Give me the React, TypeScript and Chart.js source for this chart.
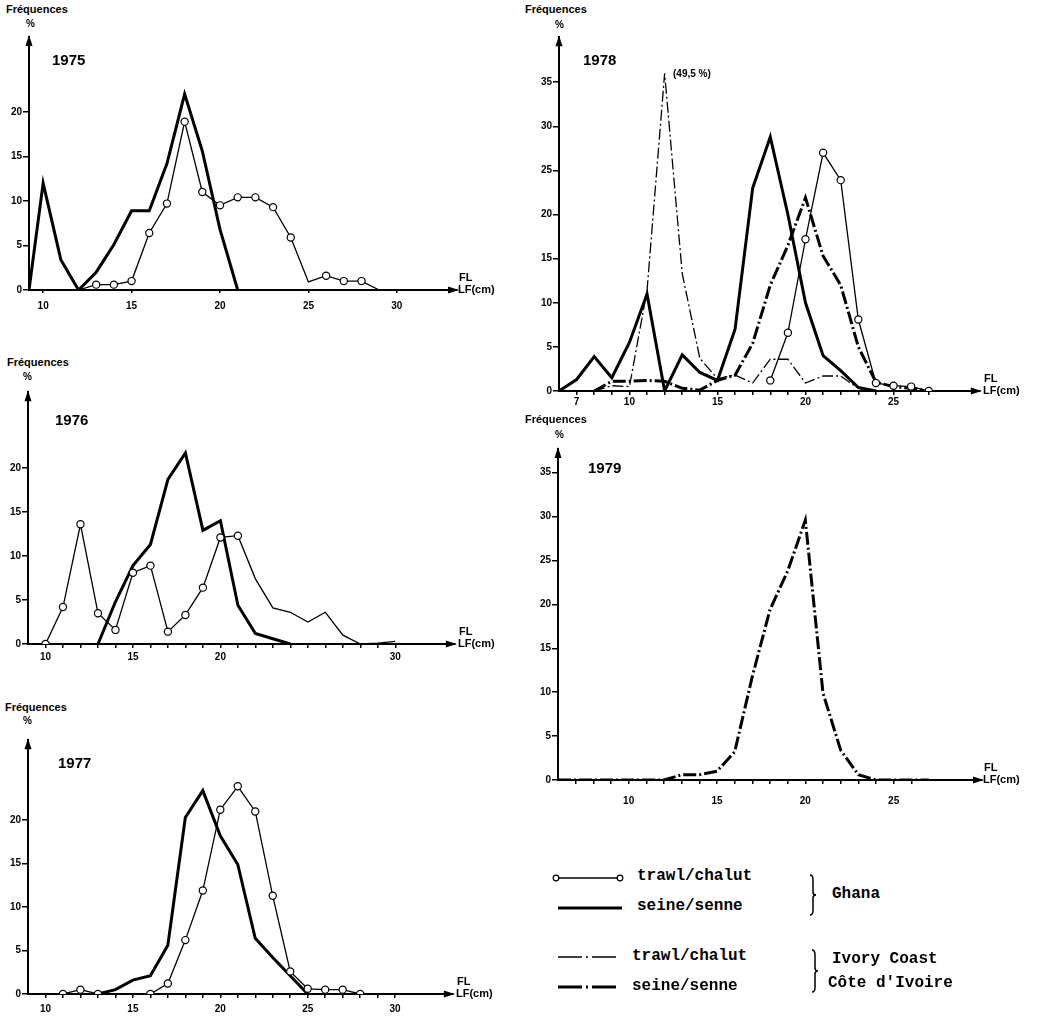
import React, { useEffect, useRef } from "react";
import { Chart, registerables } from "chart.js";

Chart.register(...registerables);

// ===== Data (length FL/LF in cm, frequency in %) =====
// 1975 — Ghana
const gTrawl1975Len = [12, 13, 14, 15, 16, 17, 18, 19, 20, 21, 22, 23, 24, 25, 26, 27, 28, 29];
const gTrawl1975Pct = [0, 0.6, 0.6, 1.0, 6.4, 9.7, 18.9, 11.0, 9.5, 10.4, 10.4, 9.3, 5.9, 0.9, 1.6, 1.0, 1.0, 0];
const gTrawl1975Mark = [0, 1, 1, 1, 1, 1, 1, 1, 1, 1, 1, 1, 1, 0, 1, 1, 1, 0];
const gSeine1975Len = [9.2, 10, 11, 12, 13, 14, 15, 16, 17, 18, 19, 20, 21];
const gSeine1975Pct = [0, 12, 3.4, 0, 2.0, 5.1, 8.9, 8.9, 14.2, 22, 15.6, 6.8, 0];

// 1976 — Ghana
const gTrawl1976Len = [10, 11, 12, 13, 14, 15, 16, 17, 18, 19, 20, 21, 22, 23, 24, 25, 26, 27, 28, 29, 30];
const gTrawl1976Pct = [0, 4.2, 13.6, 3.5, 1.6, 8.1, 8.9, 1.4, 3.3, 6.4, 12.1, 12.3, 7.4, 4.1, 3.6, 2.5, 3.6, 1.0, 0, 0.1, 0.3];
const gTrawl1976Mark = [1, 1, 1, 1, 1, 1, 1, 1, 1, 1, 1, 1, 0, 0, 0, 0, 0, 0, 0, 0, 0];
const gSeine1976Len = [13, 14, 15, 16, 17, 18, 19, 20, 21, 22, 23, 24];
const gSeine1976Pct = [0, 4.8, 8.9, 11.3, 18.7, 21.7, 12.9, 14.0, 4.4, 1.2, 0.6, 0];

// 1977 — Ghana
const gTrawl1977Len = [11, 12, 13, 14, 15, 16, 17, 18, 19, 20, 21, 22, 23, 24, 25, 26, 27, 28];
const gTrawl1977Pct = [0, 0.5, 0, 0, 0, 0, 1.2, 6.2, 11.9, 21.2, 23.9, 21.0, 11.3, 2.6, 0.6, 0.5, 0.5, 0];
const gTrawl1977Mark = [1, 1, 1, 0, 0, 1, 1, 1, 1, 1, 1, 1, 1, 1, 1, 1, 1, 1];
const gSeine1977Len = [13, 14, 15, 16, 17, 18, 19, 20, 21, 22, 23, 24, 25];
const gSeine1977Pct = [0, 0.5, 1.6, 2.1, 5.6, 20.3, 23.4, 18.2, 14.9, 6.4, 4.2, 2.1, 0];

// 1978 — Ghana and Ivory Coast (trawl peak at 12 cm is 49.5 %, drawn truncated)
const gTrawl1978Len = [18, 19, 20, 21, 22, 23, 24, 25, 26, 27];
const gTrawl1978Pct = [1.2, 6.6, 17.2, 27.0, 23.9, 8.1, 0.9, 0.6, 0.5, 0];
const gTrawl1978Mark = [1, 1, 1, 1, 1, 1, 1, 1, 1, 1];
const gSeine1978Len = [6, 7, 8, 9, 10, 11, 12, 13, 14, 15, 16, 17, 18, 19, 20, 21, 22, 23, 24];
const gSeine1978Pct = [0, 1.3, 3.9, 1.5, 5.5, 11.0, 0, 4.1, 2.1, 1.2, 7.0, 23.0, 28.8, 20.0, 10.0, 4.0, 2.3, 0.4, 0];
const iTrawl1978Len = [8, 9, 10, 11, 12, 13, 14, 15, 16, 17, 18, 19, 20, 21, 22, 23, 24];
const iTrawl1978Pct = [0, 0.6, 0.5, 11.4, 36, 13.3, 3.7, 1.4, 1.8, 0.9, 3.6, 3.6, 0.9, 1.7, 1.7, 0.3, 0];
const iSeine1978Len = [8, 9, 10, 11, 12, 13, 14, 15, 16, 17, 18, 19, 20, 21, 22, 23, 24, 25, 26, 27];
const iSeine1978Pct = [0, 1.1, 1.1, 1.2, 1.1, 0.3, 0.1, 1.2, 1.8, 5.4, 12.0, 16.5, 21.9, 15.3, 12.0, 5.0, 1.0, 0.5, 0.3, 0];

// 1979 — Ivory Coast
const iSeine1979Len = [6, 7, 8, 9, 10, 11, 12, 13, 14, 15, 16, 17, 18, 19, 20, 21, 22, 23, 24, 25, 26, 27];
const iSeine1979Pct = [0, 0, 0, 0, 0, 0, 0, 0.6, 0.6, 1.0, 3.2, 11.8, 19.4, 23.8, 29.6, 9.9, 3.4, 0.6, 0, 0, 0, 0];

// Axis ticks
const yTicksLeft = [0, 5, 10, 15, 20];
const yTicksRight = [0, 5, 10, 15, 20, 25, 30, 35];
const xMarks1975 = [10, 15, 20, 25, 30];
const xLabels1975 = [10, 15, 20, 25, 30];
const xMarks1976 = [10, 11, 12, 13, 14, 15, 16, 17, 18, 19, 20, 21, 22, 23, 24, 25, 26, 27, 28, 29, 30];
const xLabels1976 = [10, 15, 20, 30];
const xMarks1977 = [10, 11, 12, 13, 14, 15, 16, 17, 18, 19, 20, 21, 22, 23, 24, 25, 26, 27, 28, 29, 30];
const xLabels1977 = [10, 15, 20, 25, 30];
const xMarks1978 = [7, 8, 9, 10, 11, 12, 13, 14, 15, 16, 17, 18, 19, 20, 21, 22, 23, 24, 25, 26, 27];
const xLabels1978 = [7, 10, 15, 20, 25];
const xMarks1979 = [7, 8, 9, 10, 11, 12, 13, 14, 15, 16, 17, 18, 19, 20, 21, 22, 23, 24, 25, 26];
const xLabels1979 = [10, 15, 20, 25];

// ===== Styles =====
type Kind = "gTrawl" | "gSeine" | "iTrawl" | "iSeine";
const STYLE: Record<Kind, { w: number; dash: number[] }> = {
  gTrawl: { w: 1.3, dash: [] },
  gSeine: { w: 3, dash: [] },
  iTrawl: { w: 1.3, dash: [11, 3, 2, 3] },
  iSeine: { w: 3, dash: [13, 3, 2, 3] },
};

function ds(len: number[], pct: number[], kind: Kind, marks?: number[]) {
  const st = STYLE[kind];
  return {
    data: len.map((x, i) => ({ x, y: pct[i] })),
    borderColor: "#000",
    borderWidth: st.w,
    borderDash: st.dash,
    pointRadius: marks ? marks.map((m) => m * 3.6) : 0,
    pointBackgroundColor: "#fff",
    pointBorderColor: "#000",
    pointBorderWidth: 1.2,
    tension: 0,
    fill: false,
  };
}

const YW = 30; // y-scale box width
const XH = 30; // x-scale box height
const PT = 3;
const PR = 3;
const TICK_FONT = { family: "Liberation Sans", size: 10, weight: "bold" as const };

const arrowPlugin = {
  id: "axisArrows",
  afterDraw(chart: any) {
    const { ctx, chartArea: a } = chart;
    ctx.save();
    ctx.fillStyle = "#000";
    ctx.beginPath();
    ctx.moveTo(a.left, a.top - 2);
    ctx.lineTo(a.left - 3.5, a.top + 9);
    ctx.lineTo(a.left + 3.5, a.top + 9);
    ctx.closePath();
    ctx.fill();
    ctx.beginPath();
    ctx.moveTo(a.right + 2, a.bottom);
    ctx.lineTo(a.right - 9, a.bottom - 3.5);
    ctx.lineTo(a.right - 9, a.bottom + 3.5);
    ctx.closePath();
    ctx.fill();
    ctx.restore();
  },
};

type PanelCfg = {
  year: string;
  axisX: number;
  baseline: number;
  topY: number;
  rightX: number;
  xMin: number;
  xMax: number;
  yMax: number;
  yTicks: number[];
  xMarks: number[];
  xLabels: number[];
  xTickLen: number;
  xLabelPad: number;
  datasets: any[];
  freqPos: [number, number];
  pctPos: [number, number];
  yearPos: [number, number];
};

const PANELS: PanelCfg[] = [
  {
    year: "1975", axisX: 29, baseline: 290, topY: 37, rightX: 457,
    xMin: 9.2, xMax: 33.4, yMax: 28.4, yTicks: yTicksLeft,
    xMarks: xMarks1975, xLabels: xLabels1975, xTickLen: 3, xLabelPad: 7,
    datasets: [
      ds(gTrawl1975Len, gTrawl1975Pct, "gTrawl", gTrawl1975Mark),
      ds(gSeine1975Len, gSeine1975Pct, "gSeine"),
    ],
    freqPos: [6, 4], pctPos: [26, 19], yearPos: [52, 52],
  },
  {
    year: "1976", axisX: 28, baseline: 644, topY: 390, rightX: 457,
    xMin: 9, xMax: 33.4, yMax: 28.6, yTicks: yTicksLeft,
    xMarks: xMarks1976, xLabels: xLabels1976, xTickLen: 4, xLabelPad: 3,
    datasets: [
      ds(gTrawl1976Len, gTrawl1976Pct, "gTrawl", gTrawl1976Mark),
      ds(gSeine1976Len, gSeine1976Pct, "gSeine"),
    ],
    freqPos: [7, 357], pctPos: [23, 372], yearPos: [55, 412],
  },
  {
    year: "1977", axisX: 28, baseline: 994, topY: 738, rightX: 455,
    xMin: 9, xMax: 33.3, yMax: 29.2, yTicks: yTicksLeft,
    xMarks: xMarks1977, xLabels: xLabels1977, xTickLen: 4, xLabelPad: 5,
    datasets: [
      ds(gTrawl1977Len, gTrawl1977Pct, "gTrawl", gTrawl1977Mark),
      ds(gSeine1977Len, gSeine1977Pct, "gSeine"),
    ],
    freqPos: [5, 702], pctPos: [23, 716], yearPos: [58, 755],
  },
  {
    year: "1978", axisX: 559, baseline: 391, topY: 35, rightX: 982,
    xMin: 6, xMax: 29.9, yMax: 40.1, yTicks: yTicksRight,
    xMarks: xMarks1978, xLabels: xLabels1978, xTickLen: 4, xLabelPad: 1,
    datasets: [
      ds(gTrawl1978Len, gTrawl1978Pct, "gTrawl", gTrawl1978Mark),
      ds(gSeine1978Len, gSeine1978Pct, "gSeine"),
      ds(iTrawl1978Len, iTrawl1978Pct, "iTrawl"),
      ds(iSeine1978Len, iSeine1978Pct, "iSeine"),
    ],
    freqPos: [525, 4], pctPos: [555, 20], yearPos: [583, 52],
  },
  {
    year: "1979", axisX: 558, baseline: 780, topY: 449, rightX: 982,
    xMin: 6, xMax: 30, yMax: 37.7, yTicks: yTicksRight,
    xMarks: xMarks1979, xLabels: xLabels1979, xTickLen: 4, xLabelPad: 11,
    datasets: [ds(iSeine1979Len, iSeine1979Pct, "iSeine")],
    freqPos: [525, 414], pctPos: [555, 430], yearPos: [588, 460],
  },
];

function Panel({ cfg }: { cfg: PanelCfg }) {
  const ref = useRef<HTMLCanvasElement | null>(null);
  const left = Math.round(cfg.axisX - YW);
  const top = Math.round(cfg.topY - PT);
  const width = Math.round(cfg.rightX + PR - left);
  const height = Math.round(cfg.baseline + XH - top);

  useEffect(() => {
    if (!ref.current) return;
    const chart = new Chart(ref.current, {
      type: "line",
      data: { datasets: cfg.datasets },
      plugins: [arrowPlugin],
      options: {
        animation: false,
        responsive: false,
        events: [],
        layout: { padding: { top: PT, right: PR, left: 0, bottom: 0 } },
        plugins: { legend: { display: false }, tooltip: { enabled: false } },
        scales: {
          x: {
            type: "linear",
            min: cfg.xMin,
            max: cfg.xMax,
            afterBuildTicks: (s: any) => {
              s.ticks = cfg.xMarks.map((v) => ({ value: v }));
            },
            afterFit: (s: any) => {
              s.height = XH;
              s.paddingLeft = 0;
              s.paddingRight = 0;
            },
            ticks: {
              autoSkip: false,
              maxRotation: 0,
              padding: cfg.xLabelPad,
              color: "#000",
              font: TICK_FONT,
              callback: (v: any) => (cfg.xLabels.includes(Number(v)) ? String(v) : ""),
            },
            grid: { drawOnChartArea: false, drawTicks: true, tickLength: cfg.xTickLen, color: "#000", lineWidth: 1.5 },
            border: { display: true, color: "#000", width: 2 },
          },
          y: {
            type: "linear",
            min: 0,
            max: cfg.yMax,
            afterBuildTicks: (s: any) => {
              s.ticks = cfg.yTicks.map((v) => ({ value: v }));
            },
            afterFit: (s: any) => {
              s.width = YW;
              s.paddingTop = 0;
              s.paddingBottom = 0;
            },
            ticks: { padding: 1, color: "#000", font: TICK_FONT },
            grid: { drawOnChartArea: false, drawTicks: true, tickLength: 6, color: "#000", lineWidth: 1.5 },
            border: { display: true, color: "#000", width: 2 },
          },
        },
      } as any,
    });
    return () => chart.destroy();
  }, []);

  const lbl: React.CSSProperties = {
    position: "absolute",
    fontFamily: "Liberation Sans, Arial, sans-serif",
    fontWeight: "bold",
    lineHeight: 1,
    color: "#000",
    whiteSpace: "nowrap",
  };

  return (
    <>
      <canvas
        ref={ref}
        width={width}
        height={height}
        style={{ position: "absolute", left, top, width, height }}
      />
      <span style={{ ...lbl, left: cfg.freqPos[0], top: cfg.freqPos[1], fontSize: 11 }}>Fréquences</span>
      <span style={{ ...lbl, left: cfg.pctPos[0], top: cfg.pctPos[1], fontSize: 10 }}>%</span>
      <span style={{ ...lbl, left: cfg.yearPos[0], top: cfg.yearPos[1], fontSize: 15 }}>{cfg.year}</span>
      <span style={{ ...lbl, left: cfg.rightX + 2, top: cfg.baseline - 18, fontSize: 11 }}>FL</span>
      <span style={{ ...lbl, left: cfg.rightX + 1, top: cfg.baseline - 6, fontSize: 11 }}>LF(cm)</span>
    </>
  );
}

function Legend() {
  const mono: React.CSSProperties = {
    position: "absolute",
    fontFamily: "Liberation Mono, DejaVu Sans Mono, monospace",
    fontWeight: "bold",
    fontSize: 16,
    lineHeight: 1,
    color: "#000",
    whiteSpace: "nowrap",
  };
  const brace = (x: number, y0: number, y1: number) => {
    const ym = (y0 + y1) / 2;
    return `M ${x} ${y0} Q ${x + 3} ${y0} ${x + 3} ${y0 + 5} L ${x + 3} ${ym - 3} Q ${x + 3} ${ym} ${x + 6} ${ym} Q ${x + 3} ${ym} ${x + 3} ${ym + 3} L ${x + 3} ${y1 - 5} Q ${x + 3} ${y1} ${x} ${y1}`;
  };
  return (
    <>
      <svg style={{ position: "absolute", left: 540, top: 860 }} width={300} height={150}>
        <line x1={16} y1={18} x2={80} y2={18} stroke="#000" strokeWidth={1.3} />
        <circle cx={16} cy={18} r={2.8} fill="#fff" stroke="#000" strokeWidth={1.2} />
        <circle cx={80} cy={18} r={2.8} fill="#fff" stroke="#000" strokeWidth={1.2} />
        <line x1={18} y1={48} x2={82} y2={48} stroke="#000" strokeWidth={3} />
        <line x1={18} y1={97} x2={80} y2={97} stroke="#000" strokeWidth={1.3} strokeDasharray="24 4 2 4" />
        <line x1={18} y1={127} x2={80} y2={127} stroke="#000" strokeWidth={3} strokeDasharray="24 4 2 4" />
        <path d={brace(270, 15, 55)} fill="none" stroke="#000" strokeWidth={1.5} />
        <path d={brace(272, 90, 132)} fill="none" stroke="#000" strokeWidth={1.5} />
      </svg>
      <span style={{ ...mono, left: 637, top: 868 }}>trawl/chalut</span>
      <span style={{ ...mono, left: 637, top: 898 }}>seine/senne</span>
      <span style={{ ...mono, left: 832, top: 886 }}>Ghana</span>
      <span style={{ ...mono, left: 632, top: 948 }}>trawl/chalut</span>
      <span style={{ ...mono, left: 632, top: 978 }}>seine/senne</span>
      <span style={{ ...mono, left: 832, top: 951 }}>Ivory Coast</span>
      <span style={{ ...mono, left: 828, top: 975 }}>Côte d'Ivoire</span>
    </>
  );
}

export default function App() {
  return (
    <div
      style={{
        position: "absolute",
        left: 0,
        top: 0,
        width: 1038,
        height: 1017,
        background: "#fff",
        overflow: "hidden",
      }}
    >
      {PANELS.map((p) => (
        <Panel key={p.year} cfg={p} />
      ))}
      <span
        style={{
          position: "absolute",
          left: 673,
          top: 69,
          fontFamily: "Liberation Sans, Arial, sans-serif",
          fontWeight: "bold",
          fontSize: 10,
          lineHeight: 1,
          whiteSpace: "nowrap",
        }}
      >
        (49,5 %)
      </span>
      <Legend />
    </div>
  );
}
